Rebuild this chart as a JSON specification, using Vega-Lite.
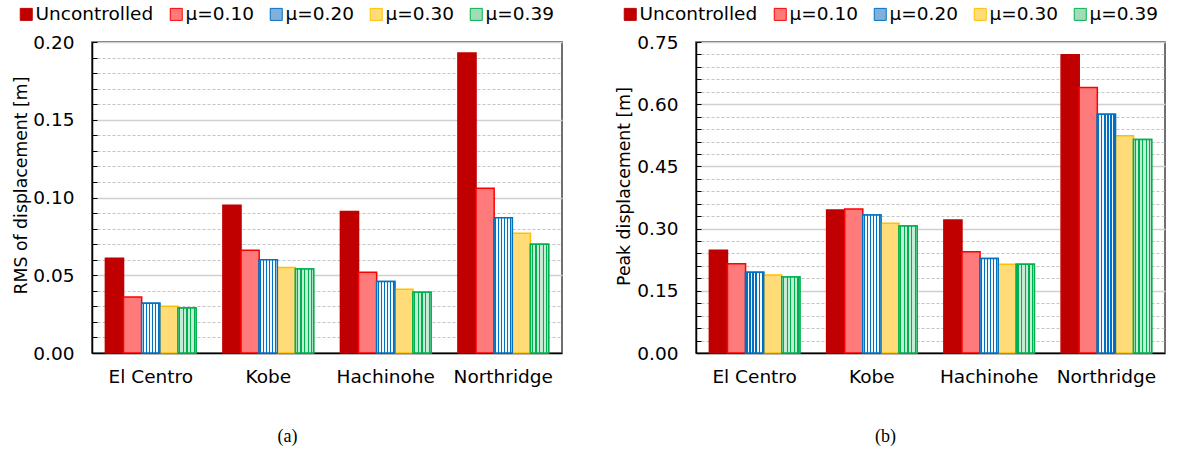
{
  "$schema": "https://vega.github.io/schema/vega-lite/v6.json",
  "background": "white",
  "padding": {"left": 11, "top": 4, "right": 5, "bottom": 5},
  "config": {
    "font": "DejaVu Sans",
    "view": {"stroke": "#404040", "strokeWidth": 1.5},
    "axis": {"labelColor": "black", "titleColor": "black", "titleFontWeight": "normal", "labelFont": "DejaVu Sans", "labelFontSize": 18.5},
    "legend": {"labelFont": "DejaVu Sans", "labelFontSize": 18.5, "labelColor": "black"}
  },
  "datasets": {
    "rms": [
      {"site": "El Centro", "case": "Uncontrolled", "value": 0.061},
      {"site": "El Centro", "case": "μ=0.10", "value": 0.036},
      {"site": "El Centro", "case": "μ=0.20", "value": 0.032},
      {"site": "El Centro", "case": "μ=0.30", "value": 0.030},
      {"site": "El Centro", "case": "μ=0.39", "value": 0.029},
      {"site": "Kobe", "case": "Uncontrolled", "value": 0.095},
      {"site": "Kobe", "case": "μ=0.10", "value": 0.066},
      {"site": "Kobe", "case": "μ=0.20", "value": 0.060},
      {"site": "Kobe", "case": "μ=0.30", "value": 0.055},
      {"site": "Kobe", "case": "μ=0.39", "value": 0.054},
      {"site": "Hachinohe", "case": "Uncontrolled", "value": 0.091},
      {"site": "Hachinohe", "case": "μ=0.10", "value": 0.052},
      {"site": "Hachinohe", "case": "μ=0.20", "value": 0.046},
      {"site": "Hachinohe", "case": "μ=0.30", "value": 0.041},
      {"site": "Hachinohe", "case": "μ=0.39", "value": 0.039},
      {"site": "Northridge", "case": "Uncontrolled", "value": 0.193},
      {"site": "Northridge", "case": "μ=0.10", "value": 0.106},
      {"site": "Northridge", "case": "μ=0.20", "value": 0.087},
      {"site": "Northridge", "case": "μ=0.30", "value": 0.077},
      {"site": "Northridge", "case": "μ=0.39", "value": 0.070}
    ],
    "peak": [
      {"site": "El Centro", "case": "Uncontrolled", "value": 0.248},
      {"site": "El Centro", "case": "μ=0.10", "value": 0.215},
      {"site": "El Centro", "case": "μ=0.20", "value": 0.195},
      {"site": "El Centro", "case": "μ=0.30", "value": 0.188},
      {"site": "El Centro", "case": "μ=0.39", "value": 0.183},
      {"site": "Kobe", "case": "Uncontrolled", "value": 0.345},
      {"site": "Kobe", "case": "μ=0.10", "value": 0.347},
      {"site": "Kobe", "case": "μ=0.20", "value": 0.333},
      {"site": "Kobe", "case": "μ=0.30", "value": 0.313},
      {"site": "Kobe", "case": "μ=0.39", "value": 0.306},
      {"site": "Hachinohe", "case": "Uncontrolled", "value": 0.321},
      {"site": "Hachinohe", "case": "μ=0.10", "value": 0.244},
      {"site": "Hachinohe", "case": "μ=0.20", "value": 0.228},
      {"site": "Hachinohe", "case": "μ=0.30", "value": 0.214},
      {"site": "Hachinohe", "case": "μ=0.39", "value": 0.214},
      {"site": "Northridge", "case": "Uncontrolled", "value": 0.719},
      {"site": "Northridge", "case": "μ=0.10", "value": 0.640},
      {"site": "Northridge", "case": "μ=0.20", "value": 0.576},
      {"site": "Northridge", "case": "μ=0.30", "value": 0.524},
      {"site": "Northridge", "case": "μ=0.39", "value": 0.515}
    ]
  },
  "spacing": 51,
  "resolve": {
    "scale": {"color": "independent", "stroke": "independent", "x": "independent", "y": "independent", "xOffset": "independent"},
    "legend": {"color": "independent", "stroke": "independent"}
  },
  "hconcat": [
    {
      "width": 470,
      "height": 311,
      "data": {"name": "rms"},
      "encoding": {
        "x": {
          "field": "site", "type": "nominal",
          "sort": ["El Centro", "Kobe", "Hachinohe", "Northridge"],
          "scale": {"paddingInner": 0.228, "paddingOuter": 0.114},
          "axis": {
            "title": "(a)", "titleFont": "Liberation Serif", "titleFontSize": 18,
            "titleX": 195, "titleY": 88, "titleAlign": "center", "titleBaseline": "alphabetic",
            "labelAngle": 0, "ticks": false, "labelPadding": 14,
            "domainColor": "black", "domainWidth": 1.5
          }
        },
        "xOffset": {
          "field": "case", "type": "nominal",
          "scale": {"domain": ["Uncontrolled", "μ=0.10", "μ=0.20", "μ=0.30", "μ=0.39"], "paddingInner": 0, "paddingOuter": 0}
        },
        "y": {
          "field": "value", "type": "quantitative",
          "scale": {"domain": [0, 0.2], "nice": false},
          "axis": {
            "title": "RMS of displacement [m]", "titleFontSize": 17.3,
            "titleX": -71, "titleY": 143, "titleAngle": -90, "titleAlign": "center", "titleBaseline": "middle",
            "values": [0, 0.01, 0.02, 0.03, 0.04, 0.05, 0.06, 0.07, 0.08, 0.09, 0.1, 0.11, 0.12, 0.13, 0.14, 0.15, 0.16, 0.17, 0.18, 0.19, 0.2],
            "labelExpr": "round(datum.value*100) % 5 === 0 ? format(datum.value, '.2f') : ''",
            "tickSize": -5, "tickColor": "black", "labelPadding": 23,
            "domainColor": "black", "domainWidth": 1.5,
            "grid": true,
            "gridColor": {"condition": {"test": "round(datum.value*100) % 5 === 0", "value": "#d0d0d0"}, "value": "#c4c4c4"},
            "gridDash": {"condition": {"test": "round(datum.value*100) % 5 === 0", "value": []}, "value": [3, 2]},
            "gridWidth": {"condition": {"test": "round(datum.value*100) % 5 === 0", "value": 1.5}, "value": 1}
          }
        }
      },
      "layer": [
        {
          "mark": {"type": "bar", "strokeWidth": 1.5},
          "encoding": {
            "color": {
              "field": "case", "type": "nominal",
              "scale": {
                "domain": ["Uncontrolled", "μ=0.10", "μ=0.20", "μ=0.30", "μ=0.39"],
                "range": ["#c00000", "#ff7a7a", "#80b0dc", "#ffdc78", "#a0dcb8"]
              },
              "legend": {
                "title": null, "orient": "none", "direction": "horizontal",
                "legendX": -75, "legendY": -37, "padding": 0,
                "symbolType": "square", "symbolSize": 144, "symbolStrokeWidth": 1,
                "labelOffset": 0, "columnPadding": 13
              }
            },
            "stroke": {
              "field": "case", "type": "nominal",
              "scale": {
                "domain": ["Uncontrolled", "μ=0.10", "μ=0.20", "μ=0.30", "μ=0.39"],
                "range": ["#c00000", "#ff0000", "#0070c0", "#ffc000", "#00b050"]
              }
            }
          }
        },
        {
          "transform": [{"filter": "datum.case === 'μ=0.20'"}],
          "mark": {
            "type": "bar", "stroke": "#0070c0", "strokeWidth": 1.5,
            "fill": {"gradient": "linear", "x1": 0, "y1": 0, "x2": 1, "y2": 0, "stops": [
              {"offset": 0, "color": "#f4f8fc"},
              {"offset": 0.048, "color": "#f4f8fc"}, {"offset": 0.048, "color": "#0070c0"}, {"offset": 0.118, "color": "#0070c0"}, {"offset": 0.118, "color": "#f4f8fc"},
              {"offset": 0.215, "color": "#f4f8fc"}, {"offset": 0.215, "color": "#0070c0"}, {"offset": 0.285, "color": "#0070c0"}, {"offset": 0.285, "color": "#f4f8fc"},
              {"offset": 0.382, "color": "#f4f8fc"}, {"offset": 0.382, "color": "#0070c0"}, {"offset": 0.452, "color": "#0070c0"}, {"offset": 0.452, "color": "#f4f8fc"},
              {"offset": 0.548, "color": "#f4f8fc"}, {"offset": 0.548, "color": "#0070c0"}, {"offset": 0.618, "color": "#0070c0"}, {"offset": 0.618, "color": "#f4f8fc"},
              {"offset": 0.715, "color": "#f4f8fc"}, {"offset": 0.715, "color": "#0070c0"}, {"offset": 0.785, "color": "#0070c0"}, {"offset": 0.785, "color": "#f4f8fc"},
              {"offset": 0.882, "color": "#f4f8fc"}, {"offset": 0.882, "color": "#0070c0"}, {"offset": 0.952, "color": "#0070c0"}, {"offset": 0.952, "color": "#f4f8fc"},
              {"offset": 1, "color": "#f4f8fc"}
            ]}
          }
        },
        {
          "transform": [{"filter": "datum.case === 'μ=0.39'"}],
          "mark": {
            "type": "bar", "stroke": "#00b050", "strokeWidth": 1.5,
            "fill": {"gradient": "linear", "x1": 0, "y1": 0, "x2": 1, "y2": 0, "stops": [
              {"offset": 0, "color": "#c4ecd4"},
              {"offset": 0.065, "color": "#c4ecd4"}, {"offset": 0.065, "color": "#00b050"}, {"offset": 0.135, "color": "#00b050"}, {"offset": 0.135, "color": "#c4ecd4"},
              {"offset": 0.265, "color": "#c4ecd4"}, {"offset": 0.265, "color": "#00b050"}, {"offset": 0.335, "color": "#00b050"}, {"offset": 0.335, "color": "#c4ecd4"},
              {"offset": 0.465, "color": "#c4ecd4"}, {"offset": 0.465, "color": "#00b050"}, {"offset": 0.535, "color": "#00b050"}, {"offset": 0.535, "color": "#c4ecd4"},
              {"offset": 0.665, "color": "#c4ecd4"}, {"offset": 0.665, "color": "#00b050"}, {"offset": 0.735, "color": "#00b050"}, {"offset": 0.735, "color": "#c4ecd4"},
              {"offset": 0.865, "color": "#c4ecd4"}, {"offset": 0.865, "color": "#00b050"}, {"offset": 0.935, "color": "#00b050"}, {"offset": 0.935, "color": "#c4ecd4"},
              {"offset": 1, "color": "#c4ecd4"}
            ]}
          }
        }
      ]
    },
    {
      "width": 469,
      "height": 311,
      "data": {"name": "peak"},
      "encoding": {
        "x": {
          "field": "site", "type": "nominal",
          "sort": ["El Centro", "Kobe", "Hachinohe", "Northridge"],
          "scale": {"paddingInner": 0.228, "paddingOuter": 0.114},
          "axis": {
            "title": "(b)", "titleFont": "Liberation Serif", "titleFontSize": 18,
            "titleX": 189, "titleY": 88, "titleAlign": "center", "titleBaseline": "alphabetic",
            "labelAngle": 0, "ticks": false, "labelPadding": 14,
            "domainColor": "black", "domainWidth": 1.5
          }
        },
        "xOffset": {
          "field": "case", "type": "nominal",
          "scale": {"domain": ["Uncontrolled", "μ=0.10", "μ=0.20", "μ=0.30", "μ=0.39"], "paddingInner": 0, "paddingOuter": 0}
        },
        "y": {
          "field": "value", "type": "quantitative",
          "scale": {"domain": [0, 0.75], "nice": false},
          "axis": {
            "title": "Peak displacement [m]", "titleFontSize": 17.3,
            "titleX": -72, "titleY": 144, "titleAngle": -90, "titleAlign": "center", "titleBaseline": "middle",
            "values": [0, 0.03, 0.06, 0.09, 0.12, 0.15, 0.18, 0.21, 0.24, 0.27, 0.3, 0.33, 0.36, 0.39, 0.42, 0.45, 0.48, 0.51, 0.54, 0.57, 0.6, 0.63, 0.66, 0.69, 0.72, 0.75],
            "labelExpr": "round(datum.value*100) % 15 === 0 ? format(datum.value, '.2f') : ''",
            "tickSize": -5, "tickColor": "black", "labelPadding": 23,
            "domainColor": "black", "domainWidth": 1.5,
            "grid": true,
            "gridColor": {"condition": {"test": "round(datum.value*100) % 15 === 0", "value": "#d0d0d0"}, "value": "#c4c4c4"},
            "gridDash": {"condition": {"test": "round(datum.value*100) % 15 === 0", "value": []}, "value": [3, 2]},
            "gridWidth": {"condition": {"test": "round(datum.value*100) % 15 === 0", "value": 1.5}, "value": 1}
          }
        }
      },
      "layer": [
        {
          "mark": {"type": "bar", "strokeWidth": 1.5},
          "encoding": {
            "color": {
              "field": "case", "type": "nominal",
              "scale": {
                "domain": ["Uncontrolled", "μ=0.10", "μ=0.20", "μ=0.30", "μ=0.39"],
                "range": ["#c00000", "#ff7a7a", "#80b0dc", "#ffdc78", "#a0dcb8"]
              },
              "legend": {
                "title": null, "orient": "none", "direction": "horizontal",
                "legendX": -75, "legendY": -37, "padding": 0,
                "symbolType": "square", "symbolSize": 144, "symbolStrokeWidth": 1,
                "labelOffset": 0, "columnPadding": 13
              }
            },
            "stroke": {
              "field": "case", "type": "nominal",
              "scale": {
                "domain": ["Uncontrolled", "μ=0.10", "μ=0.20", "μ=0.30", "μ=0.39"],
                "range": ["#c00000", "#ff0000", "#0070c0", "#ffc000", "#00b050"]
              }
            }
          }
        },
        {
          "transform": [{"filter": "datum.case === 'μ=0.20'"}],
          "mark": {
            "type": "bar", "stroke": "#0070c0", "strokeWidth": 1.5,
            "fill": {"gradient": "linear", "x1": 0, "y1": 0, "x2": 1, "y2": 0, "stops": [
              {"offset": 0, "color": "#f4f8fc"},
              {"offset": 0.048, "color": "#f4f8fc"}, {"offset": 0.048, "color": "#0070c0"}, {"offset": 0.118, "color": "#0070c0"}, {"offset": 0.118, "color": "#f4f8fc"},
              {"offset": 0.215, "color": "#f4f8fc"}, {"offset": 0.215, "color": "#0070c0"}, {"offset": 0.285, "color": "#0070c0"}, {"offset": 0.285, "color": "#f4f8fc"},
              {"offset": 0.382, "color": "#f4f8fc"}, {"offset": 0.382, "color": "#0070c0"}, {"offset": 0.452, "color": "#0070c0"}, {"offset": 0.452, "color": "#f4f8fc"},
              {"offset": 0.548, "color": "#f4f8fc"}, {"offset": 0.548, "color": "#0070c0"}, {"offset": 0.618, "color": "#0070c0"}, {"offset": 0.618, "color": "#f4f8fc"},
              {"offset": 0.715, "color": "#f4f8fc"}, {"offset": 0.715, "color": "#0070c0"}, {"offset": 0.785, "color": "#0070c0"}, {"offset": 0.785, "color": "#f4f8fc"},
              {"offset": 0.882, "color": "#f4f8fc"}, {"offset": 0.882, "color": "#0070c0"}, {"offset": 0.952, "color": "#0070c0"}, {"offset": 0.952, "color": "#f4f8fc"},
              {"offset": 1, "color": "#f4f8fc"}
            ]}
          }
        },
        {
          "transform": [{"filter": "datum.case === 'μ=0.39'"}],
          "mark": {
            "type": "bar", "stroke": "#00b050", "strokeWidth": 1.5,
            "fill": {"gradient": "linear", "x1": 0, "y1": 0, "x2": 1, "y2": 0, "stops": [
              {"offset": 0, "color": "#c4ecd4"},
              {"offset": 0.065, "color": "#c4ecd4"}, {"offset": 0.065, "color": "#00b050"}, {"offset": 0.135, "color": "#00b050"}, {"offset": 0.135, "color": "#c4ecd4"},
              {"offset": 0.265, "color": "#c4ecd4"}, {"offset": 0.265, "color": "#00b050"}, {"offset": 0.335, "color": "#00b050"}, {"offset": 0.335, "color": "#c4ecd4"},
              {"offset": 0.465, "color": "#c4ecd4"}, {"offset": 0.465, "color": "#00b050"}, {"offset": 0.535, "color": "#00b050"}, {"offset": 0.535, "color": "#c4ecd4"},
              {"offset": 0.665, "color": "#c4ecd4"}, {"offset": 0.665, "color": "#00b050"}, {"offset": 0.735, "color": "#00b050"}, {"offset": 0.735, "color": "#c4ecd4"},
              {"offset": 0.865, "color": "#c4ecd4"}, {"offset": 0.865, "color": "#00b050"}, {"offset": 0.935, "color": "#00b050"}, {"offset": 0.935, "color": "#c4ecd4"},
              {"offset": 1, "color": "#c4ecd4"}
            ]}
          }
        }
      ]
    }
  ]
}
